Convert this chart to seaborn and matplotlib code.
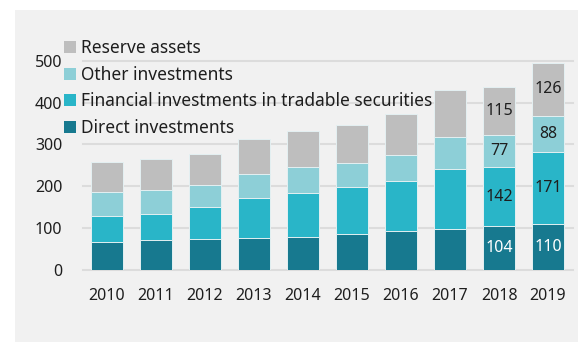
import matplotlib
matplotlib.use("Agg")
import matplotlib.pyplot as plt
from matplotlib.patches import Rectangle, Patch
import numpy as np
import pandas as pd
import seaborn as sns

years = ["2010", "2011", "2012", "2013", "2014", "2015", "2016", "2017", "2018", "2019"]
direct = [67, 71, 72, 76, 78, 84, 93, 98, 104, 110]
financial = [62, 62, 77, 96, 106, 113, 119, 144, 142, 171]
other = [57, 58, 53, 58, 62, 59, 63, 76, 77, 88]
reserve = [72, 74, 76, 82, 87, 90, 99, 113, 115, 126]

series_names = ["Direct investments", "Financial investments in tradable securities",
                "Other investments", "Reserve assets"]
series_values = [direct, financial, other, reserve]
series_colors = ["#17798f", "#29b5c8", "#8dcfd7", "#bebebe"]
labelled_years = ["2018", "2019"]
yticks = [0, 100, 200, 300, 400, 500]

plt.rcParams["font.family"] = ["Noto Sans", "DejaVu Sans"]
text_color = "#1e1e1e"

W, H = 578, 342
fig = plt.figure(figsize=(W / 100, H / 100), dpi=100, facecolor="white")
fig.patches.append(Rectangle((15 / W, 0), 1 - 15 / W, 1 - 10 / H,
                             transform=fig.transFigure, facecolor="#f1f1f1",
                             edgecolor="none", zorder=-10))

ax = fig.add_axes([82.5 / W, 1 - 269.5 / H, 490 / W, 208.5 / H])
ax.set_facecolor("none")

df = pd.DataFrame({"year": years})
for name, vals in zip(series_names, series_values):
    df[name] = vals
cum = df[series_names].cumsum(axis=1)

# stacked bars: draw cumulative totals from the top layer down
for name, color in reversed(list(zip(series_names, series_colors))):
    sns.barplot(x=df["year"], y=cum[name], color=color, saturation=1, width=0.65,
                edgecolor="#e4f0f2", linewidth=0.7, ax=ax, zorder=2)

for t in yticks:
    ax.axhline(t, color="#dcdcdc", lw=1.5, zorder=1, clip_on=False)

ax.set_ylim(0, 500)
ax.set_xlim(-0.5, len(years) - 0.5)
ax.set_yticks(yticks)
ax.set_xlabel("")
ax.set_ylabel("")
for s in ax.spines.values():
    s.set_visible(False)
ax.tick_params(axis="both", length=0, labelsize=11.5, colors=text_color)
ax.tick_params(axis="y", pad=14.5)
ax.tick_params(axis="x", pad=13.5)

# value labels inside the segments of the last two years
for yr in labelled_years:
    i = years.index(yr)
    bottom = 0
    for k, (name, vals) in enumerate(zip(series_names, series_values)):
        v = vals[i]
        ax.text(i, bottom + v / 2, f"{v}", ha="center", va="center",
                fontsize=11.5, color="white" if k == 0 else text_color, zorder=3)
        bottom += v

handles = [Patch(facecolor=c, edgecolor="none") for c in series_colors][::-1]
labels = series_names[::-1]
leg = ax.legend(handles, labels, loc="upper left",
                bbox_to_anchor=(64 / W, 1 - 39 / H), bbox_transform=fig.transFigure,
                frameon=False, fontsize=12.5, borderpad=0, borderaxespad=0,
                handlelength=0.7, handleheight=0.7, handletextpad=0.3,
                labelspacing=0.5)
for t in leg.get_texts():
    t.set_color(text_color)
leg.set_zorder(5)

fig.savefig("out.png", dpi=100, facecolor="white")
